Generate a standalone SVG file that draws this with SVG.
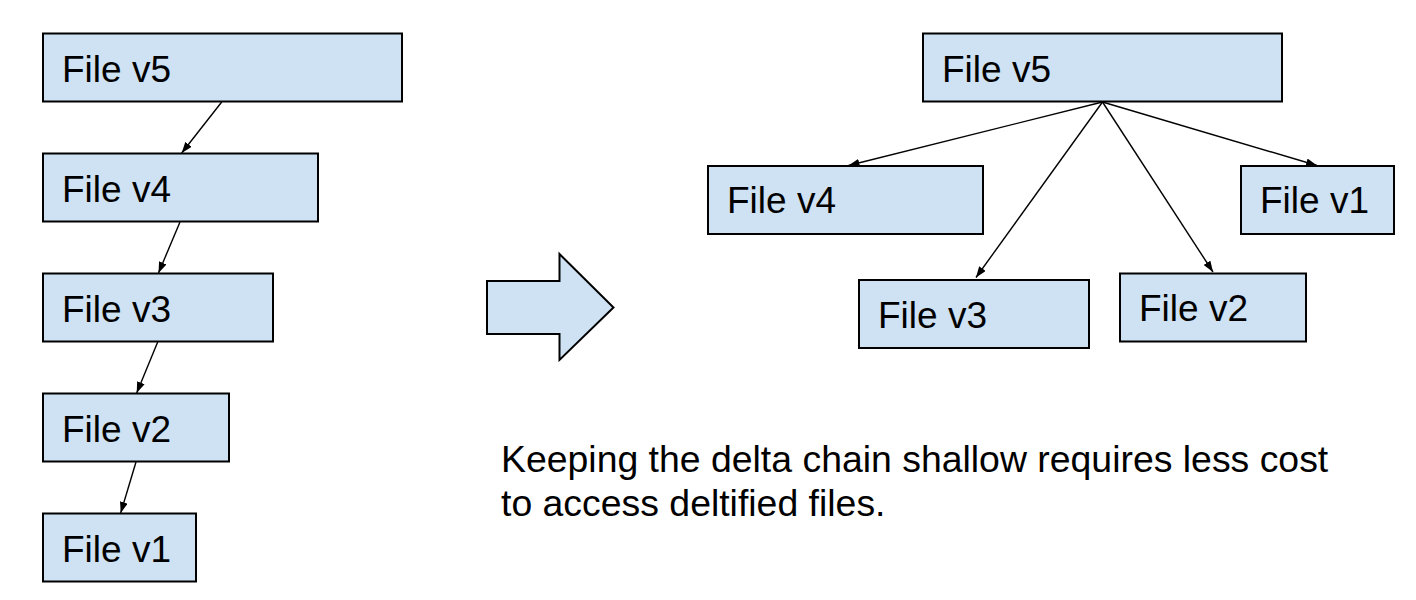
<svg xmlns="http://www.w3.org/2000/svg" width="1416" height="600" viewBox="0 0 1416 600">
  <style>
    .box { fill: #cfe2f3; stroke: #000; stroke-width: 2; }
    .lbl { font-family: "Liberation Sans", Arial, sans-serif; font-size: 37px; fill: #000; }
    .cap { font-size: 37.4px; }
    .conn { stroke: #000; stroke-width: 1.4; fill: none; marker-end: url(#ah); }
  </style>
  <defs>
    <marker id="ah" markerUnits="userSpaceOnUse" markerWidth="12" markerHeight="8" refX="11" refY="4" orient="auto">
      <path d="M0,0 L11,4 L0,8 z" fill="#000"/>
    </marker>
  </defs>
  <rect width="1416" height="600" fill="#fff"/>

  <!-- Left chain -->
  <g id="l-v5"><rect class="box" x="43" y="33.5" width="359" height="68"/><text class="lbl" x="62" y="82">File v5</text></g>
  <g id="l-v4"><rect class="box" x="43" y="153.5" width="275" height="68"/><text class="lbl" x="62" y="202">File v4</text></g>
  <g id="l-v3"><rect class="box" x="43" y="273.5" width="230" height="68"/><text class="lbl" x="62" y="322">File v3</text></g>
  <g id="l-v2"><rect class="box" x="43" y="393.5" width="186" height="68"/><text class="lbl" x="62" y="442">File v2</text></g>
  <g id="l-v1"><rect class="box" x="43" y="513.5" width="153" height="68"/><text class="lbl" x="62" y="562">File v1</text></g>

  <!-- Big arrow -->
  <g id="big-arrow">
    <polygon class="box" points="487,281 559.5,281 559.5,254 613.5,307.5 559.5,360 559.5,334 487,334"/>
  </g>

  <!-- Right tree -->
  <g id="r-v5"><rect class="box" x="923" y="33.5" width="359" height="68"/><text class="lbl" x="942" y="82">File v5</text></g>
  <g id="r-v4"><rect class="box" x="708" y="166" width="275" height="68"/><text class="lbl" x="727" y="213">File v4</text></g>
  <g id="r-v1"><rect class="box" x="1241" y="166" width="153" height="68"/><text class="lbl" x="1260" y="213">File v1</text></g>
  <g id="r-v3"><rect class="box" x="859" y="280" width="230" height="68"/><text class="lbl" x="878" y="328">File v3</text></g>
  <g id="r-v2"><rect class="box" x="1120" y="273.5" width="186" height="68"/><text class="lbl" x="1139" y="321">File v2</text></g>

  <g id="connectors">
    <line class="conn" x1="221.7" y1="102" x2="181.7" y2="153"/>
    <line class="conn" x1="180" y1="222" x2="158.5" y2="273"/>
    <line class="conn" x1="157.7" y1="342" x2="136.7" y2="393"/>
    <line class="conn" x1="136" y1="462" x2="120.7" y2="513"/>
    <line class="conn" x1="1102.5" y1="102" x2="848.5" y2="165.5"/>
    <line class="conn" x1="1102.5" y1="102" x2="976" y2="277.5"/>
    <line class="conn" x1="1102.5" y1="102" x2="1213" y2="272"/>
    <line class="conn" x1="1102.5" y1="102" x2="1317" y2="165.5"/>
  </g>

  <g id="caption">
    <text class="lbl cap" x="501" y="472">Keeping the delta chain shallow requires less cost</text>
    <text class="lbl cap" x="501" y="516">to access deltified files.</text>
  </g>
</svg>
